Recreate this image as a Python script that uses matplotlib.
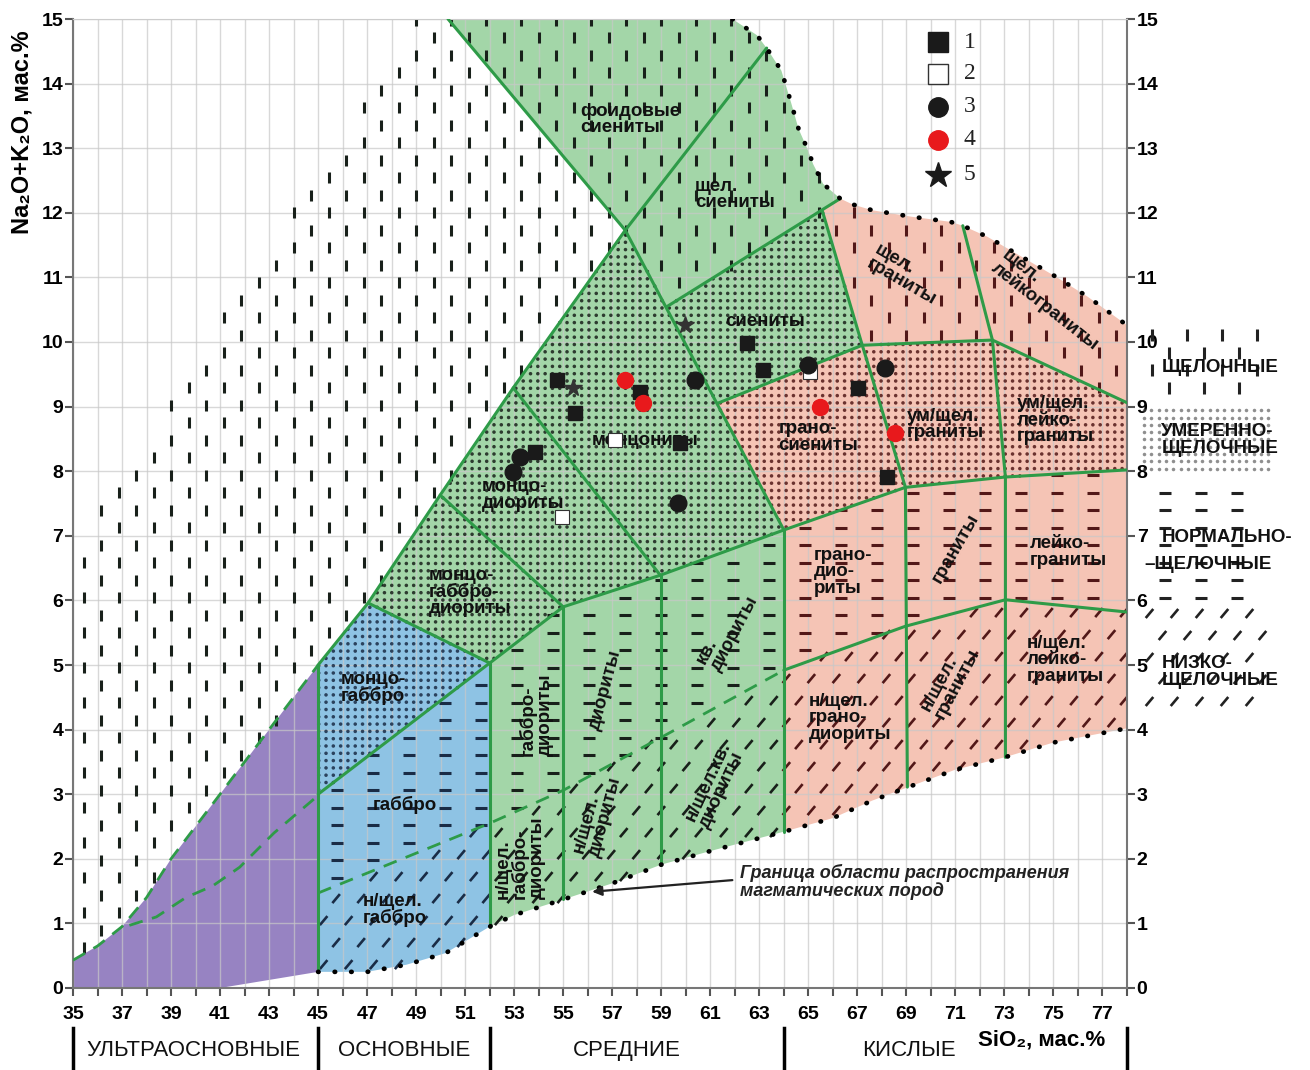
import numpy as np
import matplotlib.pyplot as plt
from matplotlib.path import Path

plt.rcParams['font.family'] = ['Liberation Sans', 'DejaVu Sans']

# --- точки проб (SiO2, Na2O+K2O)
sq_black_x = [54.76, 55.49, 58.14, 53.86, 62.51, 63.16, 67.04, 68.22, 59.78]
sq_black_y = [9.41, 8.90, 9.23, 8.30, 9.98, 9.57, 9.29, 7.91, 8.44]
sq_white_x = [57.12, 54.96, 65.08]
sq_white_y = [8.48, 7.29, 9.54]
circ_black_x = [53.24, 52.96, 60.39, 65.0, 59.69, 68.14]
circ_black_y = [8.22, 7.99, 9.41, 9.64, 7.51, 9.60]
circ_red_x = [57.53, 58.27, 65.49, 68.55]
circ_red_y = [9.41, 9.06, 8.99, 8.59]
star_x = [55.41, 59.98]
star_y = [9.29, 10.26]

# --- границы полей диаграммы
LOW = [(45, 0.25), (47, 0.25), (48.6, 0.36), (50.2, 0.54), (52, 0.95), (53, 1.13), (55, 1.37),
       (57, 1.62), (59, 1.91), (61, 2.12), (64, 2.42), (66, 2.63), (67.6, 2.9), (69, 3.1),
       (71, 3.38), (73, 3.57), (75, 3.8), (78, 4.02)]
UP = [(61.9, 15.0), (62.9, 14.75), (63.3, 14.55), (63.9, 14.2), (64.3, 13.7), (64.6, 13.3),
      (64.95, 13.0), (65.2, 12.75), (65.6, 12.45), (66.3, 12.22), (66.8, 12.13), (67.6, 12.04),
      (69.2, 11.94), (70.8, 11.86), (71.3, 11.8), (72.3, 11.63), (73.7, 11.32), (75.1, 11.01),
      (76.4, 10.7), (78, 10.26)]
UB_TOP = [(35, 0.43), (36, 0.65), (37, 0.95), (38, 1.4), (39, 2.0), (40, 2.5), (41, 3.0),
          (43, 4.0), (45, 5.0)]
UB_LOW = [(37.3, 0.97), (38.4, 1.1), (39.6, 1.4), (40.7, 1.58), (41.8, 1.87), (43.2, 2.4), (45, 2.98)]
OUTER_L = [(45, 5.0), (47.04, 5.96), (49.98, 7.63), (52.96, 9.29), (57.53, 11.73)]
FOID = [(50.3, 15.0), (57.53, 11.73), (64, 7.09)]
SHCH = [(57.53, 11.73), (63.3, 14.55)]
S_LINE = [(59.24, 10.55), (66.3, 12.22)]
H1 = [(61.29, 9.05), (67.2, 9.95), (72.51, 10.03), (78, 9.06)]
A_LINE = [(65.57, 12.03), (67.2, 9.95), (68.96, 7.75), (69.04, 3.11)]
B_LINE = [(71.3, 11.8), (72.51, 10.03), (73.04, 7.91), (73.04, 3.57)]
H2 = [(52, 5.03), (55, 5.9), (58.96, 6.39), (64, 7.09), (68.96, 7.75), (73.04, 7.91), (78, 8.02)]
H3 = [(64, 4.92), (68.96, 5.6), (73.04, 6.01), (78, 5.82)]
DASH_LOW = [(45, 1.47), (52, 2.55), (55, 3.06), (59, 3.88), (64, 4.92)]
MD_LINE = [(52.96, 9.29), (58.96, 6.39)]
MGD_LINE = [(49.98, 7.63), (55, 5.9)]
MG_LINE = [(47.04, 5.96), (52, 5.03)]
G_LINE = [(45, 3.0), (52, 5.03)]
VERT_LINES = [[(45, 0.25), (45, 5.0)], [(52, 0.95), (52, 5.03)], [(55, 1.37), (55, 5.9)],
              [(59, 1.91), (59, 6.39)], [(64, 2.42), (64, 7.09)]]

# --- подписи полей: текст, x, y, поворот
labels = [
    ("фоидовые\nсиениты", 57.73, 13.44, 0), ("щел.\nсиениты", 62.0, 12.28, 0),
    ("сиениты", 63.24, 10.31, 0), ("щел.\nграниты", 68.96, 11.04, -30),
    ("щел.\nлейкограниты", 74.88, 10.65, -38), ("монцониты", 58.35, 8.48, 0),
    ("монцо-\nдиориты", 53.37, 7.63, 0), ("монцо-\nгаббро-\nдиориты", 51.2, 6.13, 0),
    ("монцо-\nгаббро", 47.24, 4.64, 0), ("габбро", 48.55, 2.83, 0),
    ("н/щел.\nгаббро", 48.14, 1.21, 0), ("габбро-\nдиориты", 53.9, 4.23, 90),
    ("н/щел.\nгаббро-\nдиориты", 53.24, 2.01, 90), ("диориты", 56.7, 4.61, 75),
    ("н/щел.\nдиориты", 56.4, 2.68, 75), ("кв.\nдиориты", 61.7, 5.54, 62),
    ("н/щел.кв.\nдиориты", 61.2, 3.14, 65), ("грано-\nсиениты", 65.4, 8.53, 0),
    ("ум/щел.\nграниты", 70.6, 8.72, 0), ("ум/щел.\nлейко-\nграниты", 75.08, 8.79, 0),
    ("грано-\nдио-\nриты", 66.43, 6.44, 0), ("граниты", 71.0, 6.81, 60),
    ("лейко-\nграниты", 75.6, 6.75, 0), ("н/щел.\nграно-\nдиориты", 66.7, 4.18, 0),
    ("н/щел.\nграниты", 70.8, 4.77, 62), ("н/щел.\nлейко-\nграниты", 75.5, 5.08, 0),
]
groups = ["УЛЬТРАОСНОВНЫЕ", "ОСНОВНЫЕ", "СРЕДНИЕ", "КИСЛЫЕ"]
group_x = [39.9, 48.5, 57.6, 69.1]
group_bounds = [35, 45, 52, 64, 78]

GREEN = '#a3d6a8'
RED = '#f5c4b5'
BLUE = '#8ec3e4'
PURPLE = '#9783c2'
LINE = '#2e9b48'
SX, SY = 24.5, 64.6  # пикселей на единицу по x и y


def seg(line, x0, x1):
    return [p for p in line if x0 - 1e-9 <= p[0] <= x1 + 1e-9]


def poly(*parts):
    pts = []
    for p in parts:
        pts.extend(p)
    return np.array(pts)


def lattice(dxp, dyp, stagger=None, x0=34, x1=86, y0=-1, y1=16):
    xs = np.arange(x0, x1, dxp / SX)
    ys = np.arange(y0, y1, dyp / SY)
    X, Y = np.meshgrid(xs, ys)
    if stagger == 'col':
        Y[:, 1::2] += dyp / SY / 2
    elif stagger == 'row':
        X[1::2, :] += dxp / SX / 2
    return np.column_stack([X.ravel(), Y.ravel()])


PURPLE_POLY = poly([(35, 0), (41, 0), (45, 0.25), (45, 5.0)], UB_TOP[::-1])
BLUE_POLY = poly(seg(LOW, 45, 52), [(52, 5.03), (47.04, 5.96), (45, 5.0)])
GREEN_POLY = poly(seg(LOW, 52, 64), [(64, 7.09), (61.29, 9.05), (67.2, 9.95), (65.57, 12.03)],
                  seg(UP, 61, 66.3)[::-1], [(50.3, 15.0)], seg(OUTER_L, 47, 58)[::-1], [(52, 5.03)])
RED_POLY = poly(seg(LOW, 64, 78), seg(UP, 66.3, 78)[::-1],
                [(65.57, 12.03), (67.2, 9.95), (61.29, 9.05), (64, 7.09)])

ALK_LEFT = poly(UB_TOP, OUTER_L[1:], [(50.3, 15), (49, 15), (35, 6.8)])
ALK_FIELD = poly([(50.3, 15), (57.53, 11.73), (59.24, 10.55), (65.57, 12.03), (67.2, 9.95),
                  (72.51, 10.03), (78, 9.06)], UP[::-1])
MOD = poly(G_LINE, H2[1:], [(78, 9.06), (72.51, 10.03), (67.2, 9.95), (65.57, 12.03),
                            (59.24, 10.55), (57.53, 11.73)], OUTER_L[::-1][1:])
NORM = poly(DASH_LOW, H3[1:], H2[::-1], [(45, 3.0)])
LOWA = poly(seg(LOW, 45, 78), H3[::-1], DASH_LOW[::-1])


def inside(pts, pg):
    return Path(pg).contains_points(pts)


def mark_colors(pts):
    c = np.array(['#18201a'] * len(pts), dtype=object)
    c[inside(pts, RED_POLY)] = '#521818'
    c[inside(pts, BLUE_POLY)] = '#1a2c46'
    return list(c)


fig = plt.figure(figsize=(13.1, 10.7), dpi=100)
ax = fig.add_axes([73 / 1310, 82 / 1070, 1054 / 1310, 969 / 1070])
ax.set_xlim(35, 78)
ax.set_ylim(0, 15)

# заливки
for pg, col in [(PURPLE_POLY, PURPLE), (BLUE_POLY, BLUE), (GREEN_POLY, GREEN), (RED_POLY, RED)]:
    ax.fill(pg[:, 0], pg[:, 1], color=col, lw=0, zorder=1)

# сетка
for v in range(35, 79):
    ax.axvline(v, color='#c8c8c8', lw=1, alpha=0.7, zorder=1.5)
for v in range(0, 16):
    ax.axhline(v, color='#c8c8c8', lw=1, alpha=0.7, zorder=1.5)

# штриховки
slash = Path([(-0.42, -0.5), (0.42, 0.5)], [Path.MOVETO, Path.LINETO])
VS = dict(marker='|', s=64, linewidths=2.2)
DS = dict(marker='o', s=6.5, linewidths=0)
HS = dict(marker='_', s=74, linewidths=2.2)
SS = dict(marker=slash, s=42, linewidths=1.9)

pts = lattice(17.5, 35, 'col')
m = inside(pts, ALK_LEFT) | inside(pts, ALK_FIELD)
ax.scatter(pts[m, 0], pts[m, 1], c=mark_colors(pts[m]), zorder=2, **VS)

pts = lattice(7.3, 7.3)
m = inside(pts, MOD)
ax.scatter(pts[m, 0], pts[m, 1], c=mark_colors(pts[m]), alpha=0.85, zorder=2, **DS)

pts = lattice(36, 17.5)
m = inside(pts, NORM)
ax.scatter(pts[m, 0], pts[m, 1], c=mark_colors(pts[m]), zorder=2, **HS)

pts = lattice(25, 22, 'row')
m = inside(pts, LOWA)
ax.scatter(pts[m, 0], pts[m, 1], c=mark_colors(pts[m]), zorder=2, **SS)


# штриховки на полях справа
def band(pts, y0, y1):
    return pts[(pts[:, 0] > 78.6) & (pts[:, 0] < 83.9) & (pts[:, 1] > y0) & (pts[:, 1] < y1)]


p = band(lattice(17.5, 35, 'col'), 9.15, 10.35)
ax.scatter(p[:, 0], p[:, 1], c='#222', clip_on=False, zorder=2, **VS)
p = band(lattice(7.3, 7.3), 7.95, 9.05)
ax.scatter(p[:, 0], p[:, 1], c='#444', alpha=0.6, clip_on=False, zorder=2, **DS)
p = band(lattice(36, 17.5), 5.9, 7.8)
ax.scatter(p[:, 0], p[:, 1], c='#222', clip_on=False, zorder=2, **HS)
p = band(lattice(25, 22, 'row'), 4.2, 5.85)
ax.scatter(p[:, 0], p[:, 1], c='#222', clip_on=False, zorder=2, **SS)

# границы
solid = [OUTER_L, FOID, SHCH, S_LINE, H1, A_LINE, B_LINE, H2, H3, MD_LINE, MGD_LINE,
         MG_LINE, G_LINE] + VERT_LINES
for ln in solid:
    a = np.array(ln)
    ax.plot(a[:, 0], a[:, 1], color=LINE, lw=2.2, zorder=3, solid_capstyle='round')
for ln in [UB_TOP, UB_LOW, DASH_LOW]:
    a = np.array(ln)
    ax.plot(a[:, 0], a[:, 1], color=LINE, lw=2.0, ls=(0, (5, 3.5)), zorder=3)
for ln in [LOW, UP]:
    a = np.array(ln)
    ax.plot(a[:, 0], a[:, 1], color='black', lw=3.4, ls=(0, (0.1, 3.4)),
            dash_capstyle='round', zorder=3)

# подписи полей
for txt, x, y, rot in labels:
    ax.text(x, y, txt, ha='center', va='center', ma='left', rotation=rot, fontsize=13.5,
            fontweight='bold', color='#111', linespacing=0.95, zorder=4)

# точки
ax.plot(sq_black_x, sq_black_y, 's', ms=10.5, color='#1a1a1a', zorder=5)
ax.plot(sq_white_x, sq_white_y, 's', ms=10.5, mfc='white', mec='#333', mew=0.8, zorder=5)
ax.plot(circ_black_x, circ_black_y, 'o', ms=12, color='#1a1a1a', zorder=5)
ax.plot(circ_red_x, circ_red_y, 'o', ms=11.5, color='#e8191c', zorder=5)
ax.plot(star_x, star_y, '*', ms=13, color='#333', zorder=5)

# легенда
leg_y = [14.64, 14.15, 13.64, 13.13, 12.59]
leg_style = [dict(marker='s', ms=14, color='#1a1a1a'),
             dict(marker='s', ms=14, mfc='white', mec='#333', mew=1),
             dict(marker='o', ms=14, color='#1a1a1a'),
             dict(marker='o', ms=14, color='#e8191c'),
             dict(marker='*', ms=19, color='#1a1a1a')]
for i, (yy, st) in enumerate(zip(leg_y, leg_style)):
    ax.plot([70.27], [yy], ls='none', zorder=5, **st)
    ax.text(71.35, yy, str(i + 1), ha='left', va='center', fontsize=17,
            family=['Liberation Serif', 'DejaVu Serif'], color='#222', zorder=5)

# подпись границы
ax.text(62.22, 1.64, "Граница области распространения\nмагматических пород", ha='left', va='center',
        fontsize=13, style='italic', fontweight='bold', color='#222', linespacing=1.0, zorder=4)
ax.annotate('', xy=(56.18, 1.49), xytext=(61.9, 1.67),
            arrowprops=dict(arrowstyle='-|>', color='#222', lw=1.6, mutation_scale=14,
                            shrinkA=0, shrinkB=0), zorder=4)

# подписи щёлочности справа
RT = dict(ha='left', va='center', fontsize=13.5, fontweight='bold', color='#111',
          linespacing=1.0, clip_on=False, zorder=4)
ax.text(79.4, 9.6, "ЩЕЛОЧНЫЕ", **RT)
ax.text(79.4, 8.48, "УМЕРЕННО-\nЩЕЛОЧНЫЕ", **RT)
ax.text(79.4, 6.97, "НОРМАЛЬНО-", **RT)
ax.text(78.7, 6.55, "–ЩЕЛОЧНЫЕ", **RT)
ax.text(79.4, 4.89, "НИЗКО-\nЩЕЛОЧНЫЕ", **RT)

# оси
ax.set_xticks(range(35, 79))
ax.set_xticklabels([str(v) if v % 2 else '' for v in range(35, 79)])
ax.set_yticks(range(0, 16))
ax.tick_params(axis='both', labelsize=14, width=1.5, length=6, color='#555')
ax.tick_params(axis='x', pad=7)
ax.tick_params(axis='y', right=True, labelright=True, pad=1)
for lab in ax.get_xticklabels() + ax.get_yticklabels():
    lab.set_fontweight('bold')
for side in ['left', 'right', 'bottom']:
    ax.spines[side].set_color('#777')
    ax.spines[side].set_linewidth(1.5)
ax.spines['top'].set_color('#cccccc')

ax.text(32.9, 13.25, "Na₂O+K₂O, мас.%", rotation=90, ha='center', va='center', fontsize=17,
        fontweight='bold', clip_on=False)
ax.text(74.5, -0.8, "SiO₂, мас.%", ha='center', va='center', fontsize=16, fontweight='bold',
        clip_on=False)
for g, gx in zip(groups, group_x):
    ax.text(gx, -0.97, g, ha='center', va='center', fontsize=16, color='#111', clip_on=False)
for b in group_bounds:
    ax.plot([b, b], [-0.62, -1.3], color='black', lw=2.5, clip_on=False)

fig.savefig('out.png', dpi=100)
